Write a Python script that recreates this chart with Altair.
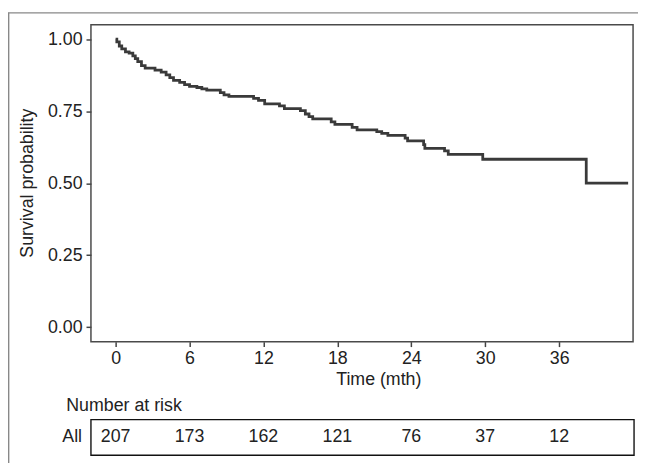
import altair as alt
import pandas as pd

# Kaplan-Meier step curve (time in months, survival probability after each event)
times = [0, 0.1, 0.3, 0.5, 0.8, 1.1, 1.4, 1.6, 1.8, 2.1, 2.4, 3.2, 3.7, 4.1, 4.4, 4.7,
         5.2, 5.6, 6.0, 6.6, 7.0, 7.4, 8.5, 8.8, 9.2, 11.2, 11.6, 12.1, 13.3, 13.7,
         15.0, 15.4, 15.7, 16.0, 17.5, 17.8, 19.2, 19.6, 21.2, 21.6, 22.1, 23.5,
         23.7, 25.0, 25.1, 26.7, 27.0, 29.8, 38.2, 41.6]
surv = [1.000, 0.990, 0.976, 0.966, 0.956, 0.951, 0.942, 0.932, 0.922, 0.908, 0.899,
        0.892, 0.885, 0.876, 0.866, 0.857, 0.850, 0.842, 0.836, 0.832, 0.827, 0.823,
        0.814, 0.806, 0.801, 0.794, 0.787, 0.775, 0.768, 0.759, 0.752, 0.740, 0.731,
        0.723, 0.713, 0.704, 0.694, 0.685, 0.679, 0.673, 0.666, 0.656, 0.647, 0.634,
        0.621, 0.612, 0.600, 0.583, 0.500, 0.500]

# Number at risk table
risk_times = [0, 6, 12, 18, 24, 30, 36]
risk_counts = [207, 173, 162, 121, 76, 37, 12]

x_ticks = [0, 6, 12, 18, 24, 30, 36]
y_ticks = [0.0, 0.25, 0.5, 0.75, 1.0]

FONT = "Liberation Sans"
FS = 18
W, H = 549, 321

curve_df = pd.DataFrame({"time": times, "surv": surv})
risk_df = pd.DataFrame({"time": risk_times, "n": [str(v) for v in risk_counts]})
one = pd.DataFrame({"k": [0]})

xscale = alt.Scale(domain=[-2, 42], nice=False, zero=False)
yscale = alt.Scale(domain=[-0.05, 1.05], nice=False, zero=False)

curve = alt.Chart(curve_df).mark_line(
    interpolate="step-after", color="#3a3a3a", strokeWidth=2.8
).encode(
    x=alt.X("time:Q", scale=xscale,
            axis=alt.Axis(values=x_ticks, title="Time (mth)", grid=False, domain=False,
                          tickSize=5, tickColor="#444", tickWidth=1.5,
                          labelFont=FONT, labelFontSize=FS, labelColor="#222",
                          labelPadding=3, titleFont=FONT, titleFontSize=FS,
                          titleFontWeight="normal", titleColor="#222",
                          titleX=291, titleY=43, titleBaseline="alphabetic")),
    y=alt.Y("surv:Q", scale=yscale,
            axis=alt.Axis(values=y_ticks, format=".2f", title="Survival probability",
                          grid=False, domain=False, tickSize=5, tickColor="#444",
                          tickWidth=1.5, labelFont=FONT, labelFontSize=FS,
                          labelColor="#222", labelPadding=4, titleFont=FONT,
                          titleFontSize=FS, titleFontWeight="normal", titleColor="#222",
                          titleX=-59, titleY=160, titleBaseline="alphabetic")),
)

risk_text = alt.Chart(risk_df).mark_text(
    font=FONT, fontSize=FS, color="#222", baseline="alphabetic", align="center"
).encode(
    x=alt.X("time:Q", scale=xscale),
    y=alt.value(423),
    text="n:N",
)

all_label = alt.Chart(one).mark_text(
    font=FONT, fontSize=FS, color="#222", baseline="alphabetic", align="right"
).encode(x=alt.value(-9), y=alt.value(423), text=alt.value("All"))

risk_title = alt.Chart(one).mark_text(
    font=FONT, fontSize=FS, color="#222", baseline="alphabetic", align="left"
).encode(x=alt.value(-25), y=alt.value(391), text=alt.value("Number at risk"))

risk_box = alt.Chart(one).mark_rect(
    fill=None, filled=False, stroke="#111", strokeWidth=1.4
).encode(x=alt.value(0), x2=alt.value(550), y=alt.value(400), y2=alt.value(436))

frame_top = alt.Chart(one).mark_rule(color="#888", strokeWidth=1.4).encode(
    x=alt.value(-84), x2=alt.value(560), y=alt.value(-12))
frame_left = alt.Chart(one).mark_rule(color="#888", strokeWidth=1.4).encode(
    x=alt.value(-83.3), y=alt.value(-12), y2=alt.value(450))

chart = alt.layer(
    curve, risk_text, all_label, risk_title, risk_box, frame_top, frame_left
).properties(
    width=W, height=H,
    autosize=alt.AutoSizeParams(type="none"),
    padding={"left": 84, "top": 14, "right": 5, "bottom": 120},
    background="white",
).configure_view(
    stroke="#4a4a4a", strokeWidth=1.5
)

chart.save("out.html", embed_options={"renderer": "svg", "actions": False})
